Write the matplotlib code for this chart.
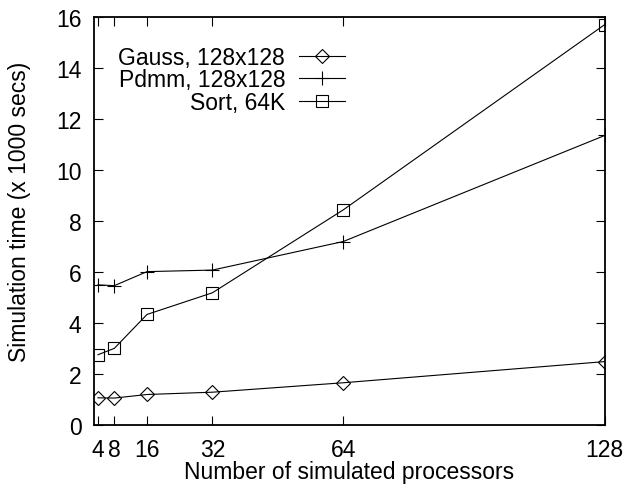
import matplotlib
matplotlib.use("Agg")
import matplotlib.pyplot as plt

plt.rcParams["font.family"] = ["Liberation Sans", "DejaVu Sans"]

procs = [4, 8, 16, 32, 64, 128]
gauss = [1.06, 1.05, 1.19, 1.28, 1.65, 2.48]
pdmm = [5.49, 5.46, 6.01, 6.07, 7.19, 11.35]
sort = [2.75, 3.0, 4.33, 5.18, 8.43, 15.7]

fig = plt.figure(figsize=(6.26, 4.85), dpi=100)
ax = fig.add_axes([0.150, 0.122, 0.816, 0.841])

kw = dict(color="black", lw=0.8, mfc="none", mec="black", mew=0.8)
ax.plot(procs, gauss, marker="D", ms=7, label="Gauss, 128x128", **kw)
ax.plot(procs, pdmm, marker="+", ms=9.5, label="Pdmm, 128x128", **kw)
ax.plot(procs, sort, marker="s", ms=8.5, label="Sort, 64K", **kw)

ax.set_xlim(3, 128)
ax.set_ylim(0, 16)
ax.set_xticks(procs)
ax.set_yticks(range(0, 17, 2))
ax.tick_params(direction="in", top=True, right=True, labelsize=16.5, length=6.5, width=0.8)
ax.tick_params(axis="x", pad=9.5)
ax.tick_params(axis="y", pad=9)
for s in ax.spines.values():
    s.set_linewidth(1.3)

ax.set_xlabel("Number of simulated processors", fontsize=16.5)
ax.xaxis.set_label_coords(0.5, -0.086)
ax.set_ylabel("Simulation time (x 1000 secs)", fontsize=16.5)
ax.yaxis.set_label_coords(-0.123, 0.525)

ax.legend(loc="upper left", bbox_to_anchor=(0.03, 0.952), frameon=False, markerfirst=False,
          fontsize=16.5, handlelength=2.0, handletextpad=0.6, labelspacing=-0.02, borderaxespad=0)

fig.savefig("out.png", dpi=100)
